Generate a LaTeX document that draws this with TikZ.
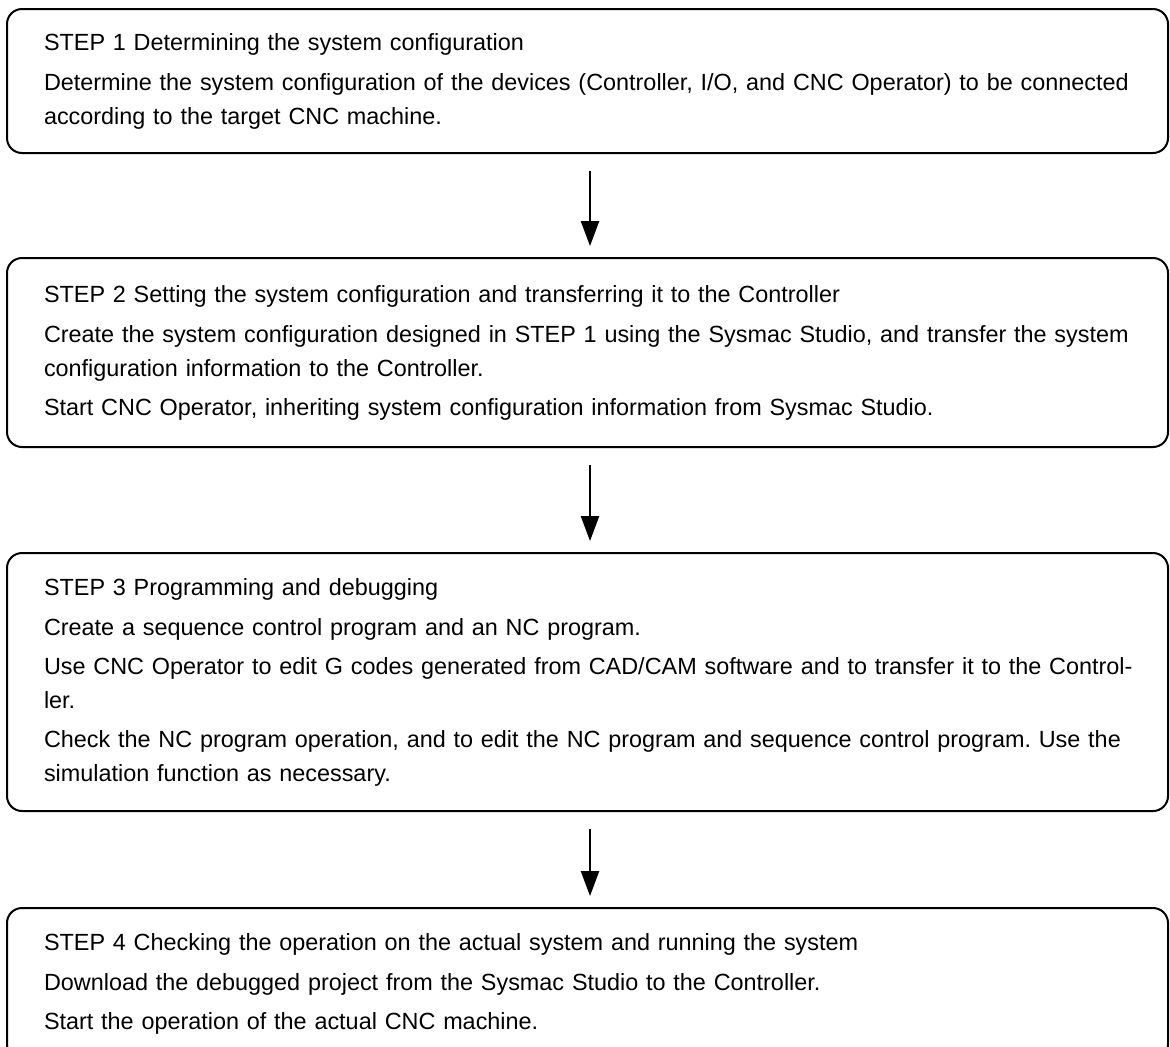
\documentclass[tikz,border=0pt]{standalone}
\usepackage{fontspec}
\setmainfont{Liberation Sans}
\usetikzlibrary{arrows.meta}

\begin{document}
\begin{tikzpicture}[x=0.5pt, y=-0.5pt,
    stepbox/.style={draw, line width=1pt, rounded corners=7.5pt, minimum width=580.5pt,
        inner xsep=18.5pt, inner ysep=0pt, text width=543.5pt, align=left,
        font=\fontsize{11.7}{17}\selectfont\frenchspacing},
    flow/.style={-{Triangle[length=12.5pt,width=9pt]}, line width=1.2pt,
        shorten <=8.5pt, shorten >=5.5pt}]
    \useasboundingbox (0,0) rectangle (1170,1046);
    \clip (0,0) rectangle (1170,1046);

    \node[stepbox, minimum height=72pt] (step1) at (587.5,81) {STEP 1 Determining the system configuration\\[3pt]
        \mbox{Determine the system configuration of the devices (Controller, I/O, and CNC Operator) to be connected}\\
        according to the target CNC machine.};
    \node[stepbox, minimum height=94.5pt] (step2) at (587.5,352.5) {STEP 2 Setting the system configuration and transferring it to the Controller\\[3pt]
        \mbox{Create the system configuration designed in STEP 1 using the Sysmac Studio, and transfer the system}\\
        configuration information to the Controller.\\[2.5pt]
        Start CNC Operator, inheriting system configuration information from Sysmac Studio.};
    \node[stepbox, minimum height=129pt] (step3) at (587.5,682) {STEP 3 Programming and debugging\\[3pt]
        Create a sequence control program and an NC program.\\[2.5pt]
        \mbox{Use CNC Operator to edit G codes generated from CAD/CAM software and to transfer it to the Control-}\\
        ler.\\[2.5pt]
        \mbox{Check the NC program operation, and to edit the NC program and sequence control program. Use the}\\
        simulation function as necessary.};
    \node[stepbox, minimum height=75.5pt] (step4) at (587.5,983.5) {STEP 4 Checking the operation on the actual system and running the system\\[3pt]
        Download the debugged project from the Sysmac Studio to the Controller.\\[2.5pt]
        Start the operation of the actual CNC machine.};

    \draw[flow] ([xshift=1.25pt]step1.south) -- ([xshift=1.25pt]step2.north);
    \draw[flow] ([xshift=1.25pt]step2.south) -- ([xshift=1.25pt]step3.north);
    \draw[flow] ([xshift=1.25pt]step3.south) -- ([xshift=1.25pt]step4.north);
\end{tikzpicture}
\end{document}
